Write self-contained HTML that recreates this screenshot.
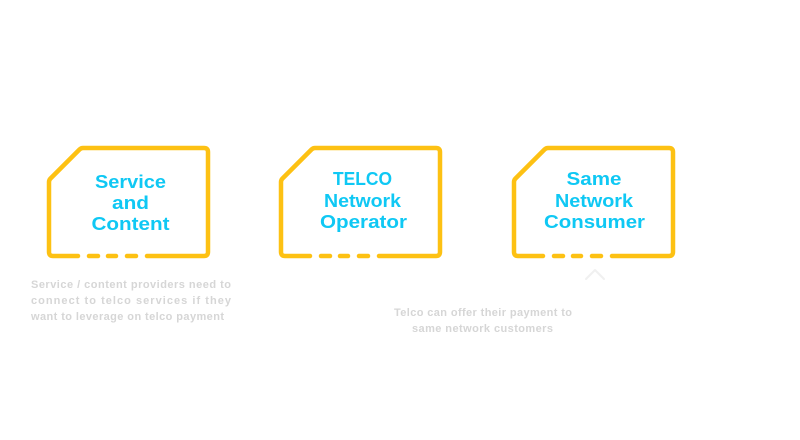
<!DOCTYPE html>
<html>
<head>
<meta charset="utf-8">
<style>
  html, body { margin: 0; padding: 0; background: #ffffff; }
  body { width: 800px; height: 440px; overflow: hidden; }
  svg { display: block; }
  .lbl { font-family: "Liberation Sans", sans-serif; font-weight: bold; font-size: 18px; fill: #0FC8F4; }
  .desc { font-family: "Liberation Sans", sans-serif; font-weight: bold; font-size: 11px; fill: #d6d6d6; }
</style>
</head>
<body>
<svg width="800" height="440" viewBox="0 0 800 440" xmlns="http://www.w3.org/2000/svg">
  <g fill="none" stroke="#FDC113" stroke-width="4.5" stroke-linecap="round" stroke-linejoin="round">
    <!-- Box 1: L=49 -->
    <path d="M78 256 L53 256 Q49 256 49 252 L49 182 Q49 180 50.5 178.5 L79.5 149.5 Q81 148 83 148 L204 148 Q208 148 208 152 L208 252 Q208 256 204 256 L147 256"/>
    <line x1="89" y1="256" x2="98" y2="256"/>
    <line x1="108" y1="256" x2="116" y2="256"/>
    <line x1="127" y1="256" x2="136" y2="256"/>
    <!-- Box 2: L=281 -->
    <path d="M310 256 L285 256 Q281 256 281 252 L281 182 Q281 180 282.5 178.5 L311.5 149.5 Q313 148 315 148 L436 148 Q440 148 440 152 L440 252 Q440 256 436 256 L379 256"/>
    <line x1="321" y1="256" x2="330" y2="256"/>
    <line x1="340" y1="256" x2="348" y2="256"/>
    <line x1="359" y1="256" x2="368" y2="256"/>
    <!-- Box 3: L=514 -->
    <path d="M543 256 L518 256 Q514 256 514 252 L514 182 Q514 180 515.5 178.5 L544.5 149.5 Q546 148 548 148 L669 148 Q673 148 673 152 L673 252 Q673 256 669 256 L612 256"/>
    <line x1="554" y1="256" x2="563" y2="256"/>
    <line x1="573" y1="256" x2="581" y2="256"/>
    <line x1="592" y1="256" x2="601" y2="256"/>
  </g>

  <!-- faint chevron -->
  <polyline points="586,279 595,270 604,279" fill="none" stroke="#f0f0f0" stroke-width="2" stroke-linecap="round" stroke-linejoin="round"/>

  <!-- Box labels -->
  <text class="lbl" x="130.5" y="188" text-anchor="middle" textLength="71" lengthAdjust="spacingAndGlyphs">Service</text>
  <text class="lbl" x="130.5" y="209" text-anchor="middle" textLength="37" lengthAdjust="spacingAndGlyphs">and</text>
  <text class="lbl" x="130.5" y="230" text-anchor="middle" textLength="78" lengthAdjust="spacingAndGlyphs">Content</text>

  <text class="lbl" x="362.5" y="185" text-anchor="middle" textLength="59" lengthAdjust="spacingAndGlyphs">TELCO</text>
  <text class="lbl" x="362.5" y="207" text-anchor="middle" textLength="77" lengthAdjust="spacingAndGlyphs">Network</text>
  <text class="lbl" x="363.5" y="228" text-anchor="middle" textLength="87" lengthAdjust="spacingAndGlyphs">Operator</text>

  <text class="lbl" x="594" y="185" text-anchor="middle" textLength="55" lengthAdjust="spacingAndGlyphs">Same</text>
  <text class="lbl" x="594" y="207" text-anchor="middle" textLength="78" lengthAdjust="spacingAndGlyphs">Network</text>
  <text class="lbl" x="594.5" y="228" text-anchor="middle" textLength="101" lengthAdjust="spacingAndGlyphs">Consumer</text>

  <!-- Description 1 -->
  <text class="desc" x="31" y="288" textLength="200" lengthAdjust="spacing">Service / content providers need to</text>
  <text class="desc" x="31" y="304" textLength="200" lengthAdjust="spacing">connect to telco services if they</text>
  <text class="desc" x="31" y="320" textLength="193" lengthAdjust="spacing">want to leverage on telco payment</text>

  <!-- Description 2 -->
  <text class="desc" x="394" y="316" textLength="178" lengthAdjust="spacing">Telco can offer their payment to</text>
  <text class="desc" x="412" y="332" textLength="141" lengthAdjust="spacing">same network customers</text>
</svg>
</body>
</html>
